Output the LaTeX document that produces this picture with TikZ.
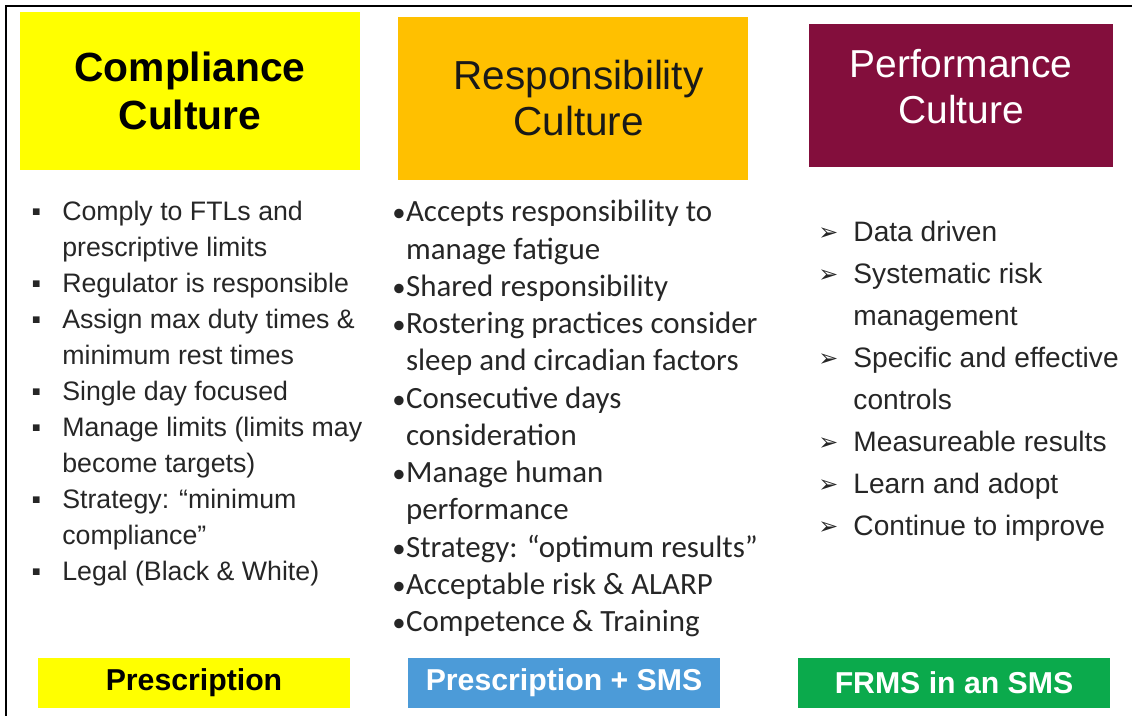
\documentclass[tikz,border=0pt]{standalone}
\usepackage{fontspec}
\setmainfont{Liberation Sans}
\newfontfamily\calfont{Carlito}
\newfontfamily\symfont{DejaVu Sans}
\usetikzlibrary{positioning}
\definecolor{compyellow}{HTML}{FFFF00}
\definecolor{resporange}{HTML}{FFC000}
\definecolor{perfmaroon}{HTML}{830E3C}
\definecolor{smsblue}{HTML}{4C9BD8}
\definecolor{frmsgreen}{HTML}{0BAA4C}
\definecolor{bodytext}{HTML}{262626}
\newcommand{\sqbul}{\makebox[22.8pt][l]{\hspace*{1pt}▪}}
\newcommand{\sqskip}{\hspace*{22.8pt}}
\newcommand{\arbul}{\makebox[25pt][l]{\raisebox{1pt}{\symfont\fontsize{17}{17}\selectfont ➢}}}
\newcommand{\arskip}{\hspace*{25pt}}
\newcommand{\dotbul}{\makebox[9.8pt][l]{\fontsize{19}{19}\selectfont •}}
\newcommand{\dotskip}{\hspace*{9.8pt}}
\tikzset{
  headbox/.style={inner sep=0pt, align=center},
  footbox/.style={inner sep=0pt, minimum width=7.8cm, minimum height=1.25cm,
    font=\bfseries\fontsize{21.5}{24}\selectfont},
  listbox/.style={inner sep=0pt, anchor=north west, align=left, text=bodytext}
}
\begin{document}
\begin{tikzpicture}[x=0.025cm, y=-0.025cm]

\useasboundingbox (0,0) rectangle (1132,716);
\draw[line width=2.1pt] (6,716) -- (6,6) -- (1132,6);

\node[headbox, fill=compyellow, minimum width=8.5cm, minimum height=3.95cm,
  font=\bfseries\fontsize{29}{34}\selectfont] (comp) at (190,91) {Compliance\\Culture};
\node[headbox, fill=resporange, minimum width=8.75cm, minimum height=4.075cm,
  font=\fontsize{28.8}{32.7}\selectfont, text=black!90] (resp) at (573,98.5) {\hspace*{8pt}Responsibility\\\hspace*{8pt}Culture};
\node[headbox, fill=perfmaroon, minimum width=7.6cm, minimum height=3.575cm] (perf) at (961,95.5) {};
\node[headbox, font=\fontsize{27.7}{32.7}\selectfont, text=white] (perftitle)
  at ([yshift=6.4pt]perf.center) {Performance\\Culture};

\node[listbox, font=\fontsize{19}{25.6}\selectfont] (complist) at (30,201) {%
\sqbul Comply to FTLs and\\
\sqskip prescriptive limits\\
\sqbul Regulator is responsible\\
\sqbul Assign max duty times \&\\
\sqskip minimum rest times\\
\sqbul Single day focused\\
\sqbul Manage limits (limits may\\
\sqskip become targets)\\
\sqbul Strategy: “minimum\\
\sqskip compliance”\\
\sqbul Legal (Black \& White)};

\node[listbox, font=\calfont\fontsize{22}{26.5}\selectfont] (resplist) at (392,200) {%
\dotbul Accepts responsibility to\\
\dotskip manage fatigue\\
\dotbul Shared responsibility\\
\dotbul Rostering practices consider\\
\dotskip sleep and circadian factors\\
\dotbul Consecutive days\\
\dotskip consideration\\
\dotbul Manage human\\
\dotskip performance\\
\dotbul Strategy: “optimum results”\\
\dotbul Acceptable risk \& ALARP\\
\dotbul Competence \& Training};

\node[listbox, font=\fontsize{20}{29.9}\selectfont] (perflist) at (818,221) {%
\arbul Data driven\\
\arbul Systematic risk\\
\arskip management\\
\arbul Specific and effective\\
\arskip controls\\
\arbul Measureable results\\
\arbul Learn and adopt\\
\arbul Continue to improve};

\node[footbox, fill=compyellow] (presc) at (194,683) {Prescription};
\node[footbox, fill=smsblue, text=white] (prescsms) at (564,683) {Prescription + SMS};
\node[footbox, fill=frmsgreen, text=white] (frms) at (954,683) {FRMS in an SMS};

\end{tikzpicture}
\end{document}
